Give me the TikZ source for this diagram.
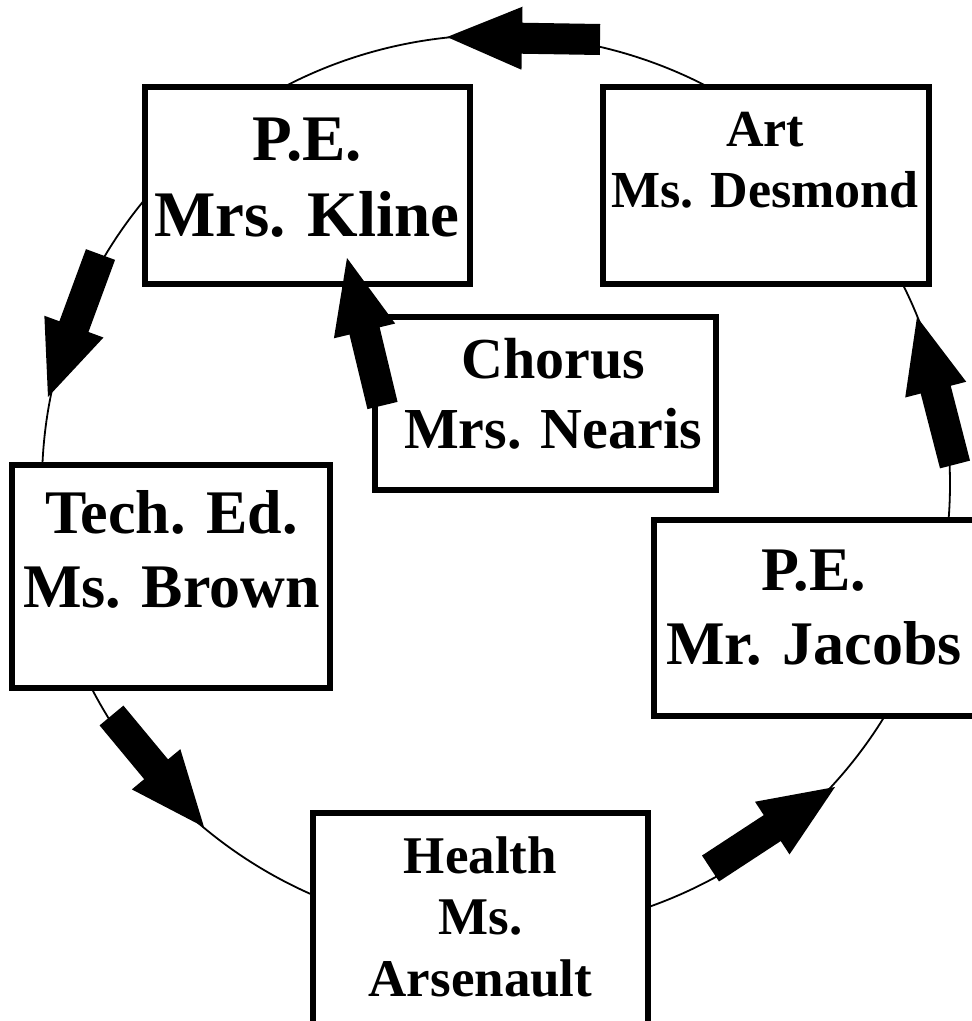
\documentclass[tikz,border=0pt]{standalone}
\usepackage{fontspec}
\setmainfont{Liberation Serif}
\usetikzlibrary{calc}
\newcommand\blkarrow[2]{%
  \path ($(#2)!75pt!(#1)$) coordinate (#2-b);
  \fill ($(#1)!15.5pt!90:(#2)$) -- ($(#2-b)!15.5pt!90:(#2)$) -- ($(#2-b)!31.5pt!90:(#2)$) -- (#2)
     -- ($(#2-b)!31.5pt!-90:(#2)$) -- ($(#2-b)!15.5pt!-90:(#2)$) -- ($(#1)!15.5pt!-90:(#2)$) -- cycle;}
\begin{document}
\begin{tikzpicture}[x=1pt,y=-1pt,
  box/.style={draw, line width=5.5pt, fill=white, rectangle, inner sep=0pt},
  lbl/.style={inner sep=0pt, anchor=base},
  ring/.style={line width=1.8pt}]
\useasboundingbox (0,0) rectangle (972,1021);
\clip (0,0) rectangle (972,1021);
\draw[ring] (496,484) ellipse [x radius=454, y radius=449];
% boxes
\node[box, minimum width=325pt, minimum height=197pt] (kline) at (307.5,185.5) {};
\node[box, minimum width=326pt, minimum height=197pt] (art) at (766,185.5) {};
\node[box, minimum width=341pt, minimum height=173pt] (chorus) at (545.5,403.5) {};
\node[box, minimum width=318pt, minimum height=223pt] (tech) at (171,576.5) {};
\node[box, minimum width=322pt, minimum height=196pt] (jacobs) at (815,618) {};
\node[box, minimum width=335pt, minimum height=247pt] (health) at (480.5,936.5) {};
% labels
\node[lbl, font={\fontsize{65}{76}\selectfont\bfseries}] (klinetxt) at (307,160) {\begin{tabular}[t]{@{}c@{}}P.E.\\Mrs. Kline\end{tabular}};
\node[lbl, font={\fontsize{52}{61}\selectfont\bfseries}] (arttxt) at (765,146) {\begin{tabular}[t]{@{}c@{}}Art\\Ms. Desmond\end{tabular}};
\node[lbl, font={\fontsize{58}{70}\selectfont\bfseries}] (chorustxt) at (553,378) {\begin{tabular}[t]{@{}c@{}}Chorus\\Mrs. Nearis\end{tabular}};
\node[lbl, font={\fontsize{62}{74}\selectfont\bfseries}] (techtxt) at (171.5,533) {\begin{tabular}[t]{@{}c@{}}Tech. Ed.\\Ms. Brown\end{tabular}};
\node[lbl, font={\fontsize{62}{74}\selectfont\bfseries}] (jacobstxt) at (814,590) {\begin{tabular}[t]{@{}c@{}}P.E.\\Mr. Jacobs\end{tabular}};
\node[lbl, font={\fontsize{53}{61.5}\selectfont\bfseries}] (healthtxt) at (480.5,873) {\begin{tabular}[t]{@{}c@{}}Health\\Ms.\\Arsenault\end{tabular}};
% arrows
\coordinate (a1t) at (600,39.5);  \coordinate (a1h) at (447,37);
\coordinate (a2t) at (100.5,254.5); \coordinate (a2h) at (48,397);
\coordinate (a3t) at (111.5,715.5); \coordinate (a3h) at (204,827);
\coordinate (a4t) at (710.5,868.5); \coordinate (a4h) at (835,787);
\coordinate (a5t) at (955,464.5); \coordinate (a5h) at (917,317);
\coordinate (a6t) at (382.5,405.5); \coordinate (a6h) at (347,258);
\blkarrow{a1t}{a1h}
\blkarrow{a2t}{a2h}
\blkarrow{a3t}{a3h}
\blkarrow{a4t}{a4h}
\blkarrow{a5t}{a5h}
\blkarrow{a6t}{a6h}
\end{tikzpicture}
\end{document}
